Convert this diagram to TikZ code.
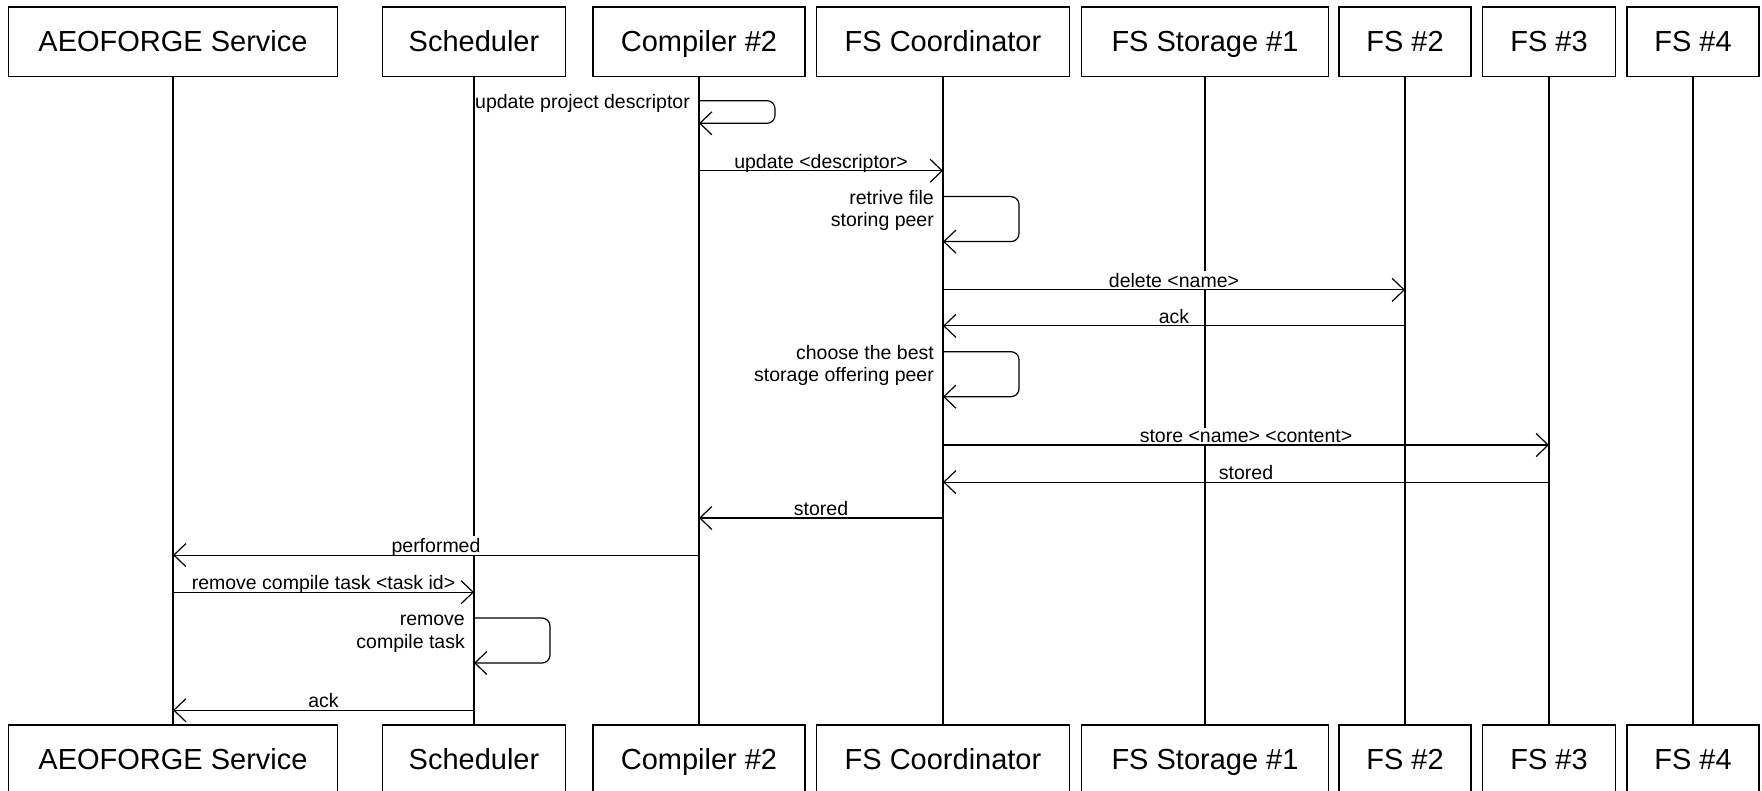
\documentclass[tikz,border=0pt]{standalone}
\usepackage{fontspec}
\setmainfont{Liberation Sans}
\usetikzlibrary{arrows.meta}
\begin{document}
\begin{tikzpicture}[x=1pt,y=-1pt,
  box/.style={draw, line width=1.3pt, minimum height=69.5pt, inner sep=0pt, text height=24pt, text depth=4pt, font=\fontsize{29}{34}\selectfont},
  life/.style={line width=1.2pt},
  msg/.style={line width=1.2pt, -{Straight Barb[length=12pt,width=23pt,line width=1.2pt]}},
  selfmsg/.style={msg, rounded corners=8pt},
  lbl/.style={font=\fontsize{19.5}{22.5}\selectfont, fill=white, inner xsep=1pt, inner ysep=2pt, text depth=0pt, midway, anchor=base, yshift=2.5pt, behind path},
  slbl/.style={font=\fontsize{19.5}{22.5}\selectfont, inner sep=0pt, anchor=base east, xshift=-9pt},
]
\useasboundingbox (0,0) rectangle (1762,791);

% header boxes
\node[box, minimum width=329pt] (svc) at (173,41.75) {AEOFORGE Service};
\node[box, minimum width=183pt] (sch) at (474,41.75) {Scheduler};
\node[box, minimum width=212pt] (cmp) at (699,41.75) {Compiler \#2};
\node[box, minimum width=253pt] (crd) at (943,41.75) {FS Coordinator};
\node[box, minimum width=247pt] (st1) at (1205,41.75) {FS Storage \#1};
\node[box, minimum width=132pt] (fs2) at (1405,41.75) {FS \#2};
\node[box, minimum width=133pt] (fs3) at (1549,41.75) {FS \#3};
\node[box, minimum width=132pt] (fs4) at (1693,41.75) {FS \#4};

% footer boxes
\node[box, minimum width=329pt] (svcB) at (173,759.75) {AEOFORGE Service};
\node[box, minimum width=183pt] (schB) at (474,759.75) {Scheduler};
\node[box, minimum width=212pt] (cmpB) at (699,759.75) {Compiler \#2};
\node[box, minimum width=253pt] (crdB) at (943,759.75) {FS Coordinator};
\node[box, minimum width=247pt] (st1B) at (1205,759.75) {FS Storage \#1};
\node[box, minimum width=132pt] (fs2B) at (1405,759.75) {FS \#2};
\node[box, minimum width=133pt] (fs3B) at (1549,759.75) {FS \#3};
\node[box, minimum width=132pt] (fs4B) at (1693,759.75) {FS \#4};

% lifelines
\foreach \n in {svc,sch,cmp,crd,st1,fs2,fs3,fs4}
  \draw[life] (\n) -- (\n B);

% message end points
\coordinate (m1t) at (cmp |- 0,100.7);
\coordinate (m1b) at (cmp |- 0,123.3);
\coordinate (m2a) at (cmp |- 0,170.8);
\coordinate (m2b) at (crd |- 0,170.8);
\coordinate (m3t) at (crd |- 0,196.6);
\coordinate (m3b) at (crd |- 0,241.6);
\coordinate (m4a) at (crd |- 0,289.9);
\coordinate (m4b) at (fs2 |- 0,289.9);
\coordinate (m5a) at (fs2 |- 0,325.9);
\coordinate (m5b) at (crd |- 0,325.9);
\coordinate (m6t) at (crd |- 0,351.7);
\coordinate (m6b) at (crd |- 0,396.7);
\coordinate (m7a) at (crd |- 0,445.0);
\coordinate (m7b) at (fs3 |- 0,445.0);
\coordinate (m8a) at (fs3 |- 0,482.1);
\coordinate (m8b) at (crd |- 0,482.1);
\coordinate (m9a) at (crd |- 0,518.0);
\coordinate (m9b) at (cmp |- 0,518.0);
\coordinate (m10a) at (cmp |- 0,555.1);
\coordinate (m10b) at (svc |- 0,555.1);
\coordinate (m11a) at (svc |- 0,592.2);
\coordinate (m11b) at (sch |- 0,592.2);
\coordinate (m12t) at (sch |- 0,618.0);
\coordinate (m12b) at (sch |- 0,663.0);
\coordinate (m13a) at (sch |- 0,710.2);
\coordinate (m13b) at (svc |- 0,710.2);

% messages
\draw[selfmsg] (m1t) -- ++(76,0) |- (m1b);
\node[slbl, yshift=-7.6pt] (l1) at (m1t) {update project descriptor};

\draw[msg] (m2a) -- node[lbl] {update <descriptor>} (m2b);

\draw[selfmsg] (m3t) -- ++(76,0) |- (m3b);
\node[slbl, yshift=-7.6pt] (l3a) at (m3t) {retrive file};
\node[slbl, yshift=-30.1pt] (l3b) at (m3t) {storing peer};

\draw[msg] (m4a) -- node[lbl] {delete <name>} (m4b);
\draw[msg] (m5a) -- node[lbl] {ack} (m5b);

\draw[selfmsg] (m6t) -- ++(76,0) |- (m6b);
\node[slbl, yshift=-7.6pt] (l6a) at (m6t) {choose the best};
\node[slbl, yshift=-30.1pt] (l6b) at (m6t) {storage offering peer};

\draw[msg] (m7a) -- node[lbl] {store <name> <content>} (m7b);
\draw[msg] (m8a) -- node[lbl] {stored} (m8b);
\draw[msg] (m9a) -- node[lbl] {stored} (m9b);
\draw[msg] (m10a) -- node[lbl] {performed} (m10b);
\draw[msg] (m11a) -- node[lbl] {remove compile task <task id>} (m11b);

\draw[selfmsg] (m12t) -- ++(76,0) |- (m12b);
\node[slbl, yshift=-7.6pt] (l12a) at (m12t) {remove};
\node[slbl, yshift=-30.1pt] (l12b) at (m12t) {compile task};

\draw[msg] (m13a) -- node[lbl] {ack} (m13b);
\end{tikzpicture}
\end{document}
